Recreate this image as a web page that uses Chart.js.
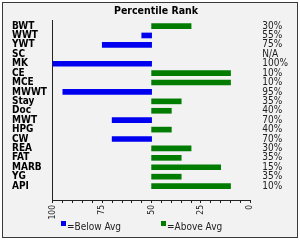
<!DOCTYPE html>
<html>
<head>
<meta charset="utf-8">
<script src="https://cdn.jsdelivr.net/npm/chart.js@4"></script>
<style>
  html, body { margin: 0; padding: 0; background: #fff; }
  #wrap { width: 300px; height: 240px; }
</style>
</head>
<body>
<div id="wrap"><canvas id="rank-chart" width="300" height="240"></canvas></div>
<script>
// --- dados ---
const traits = ['BWT', 'WWT', 'YWT', 'SC', 'MK', 'CE', 'MCE', 'MWWT', 'Stay', 'Doc',
                'MWT', 'HPG', 'CW', 'REA', 'FAT', 'MARB', 'YG', 'API'];
const ranks = [30, 55, 75, null, 100, 10, 10, 95, 35, 40, 70, 40, 70, 30, 35, 15, 35, 10];
const rankLabels = ['30%', '55%', '75%', 'N/A', '100%', '10%', '10%', '95%', '35%', '40%',
                    '70%', '40%', '70%', '30%', '35%', '15%', '35%', '10%'];
const xTicks = [0, 25, 50, 75, 100];
const AVG = 50;

const FONT = "'DejaVu Sans Condensed', 'DejaVu Sans', sans-serif";
const BLUE = '#0000f0';
const GREEN = '#007d00';

// barras abaixo / acima da media
const belowData = [];
const aboveData = [];
ranks.forEach((r, i) => {
    if (r === null) return;
    if (r > AVG) belowData.push({ y: i, x: [AVG, r] });
    else aboveData.push({ y: i, x: [AVG, r] });
});

const frame = {
    id: 'frame',
    beforeDraw(chart) {
        const ctx = chart.ctx;
        ctx.save();
        ctx.fillStyle = '#ffffff';
        ctx.fillRect(0, 0, chart.width, chart.height);
        ctx.fillStyle = '#f2f2f2';
        ctx.fillRect(2, 2, 296, 236);
        ctx.strokeStyle = '#3a3a3a';
        ctx.lineWidth = 1;
        ctx.strokeRect(2.5, 2.5, 295, 235);
        ctx.restore();
    }
};

// legenda desenhada a mao (espacamento fixo como no original)
const legendAt = [61, 161];
const bottomLegend = {
    id: 'bottomLegend',
    afterDraw(chart) {
        const ctx = chart.ctx;
        ctx.save();
        ctx.font = '10px ' + FONT;
        ctx.textBaseline = 'middle';
        chart.data.datasets.forEach((ds, i) => {
            const x = legendAt[i];
            ctx.fillStyle = ds.backgroundColor;
            ctx.fillRect(x, 221, 5, 5);
            ctx.fillStyle = '#222';
            ctx.fillText(ds.label, x + 6, 227.5);
        });
        ctx.restore();
    }
};

const rowTicks = axis => { axis.ticks = traits.map((t, i) => ({ value: i })); };

new Chart(document.getElementById('rank-chart'), {
    type: 'bar',
    data: {
        datasets: [
            { label: '=Below Avg', data: belowData, backgroundColor: BLUE, grouped: false, barThickness: 5, clip: false },
            { label: '=Above Avg', data: aboveData, backgroundColor: GREEN, grouped: false, barThickness: 5, clip: false }
        ]
    },
    options: {
        indexAxis: 'y',
        responsive: false,
        animation: false,
        layout: { padding: { left: 12, right: 0, top: 0, bottom: 18.4 } },
        scales: {
            x: {
                type: 'linear', min: 0, max: 100, reverse: true,
                afterBuildTicks: axis => {
                    const t = [];
                    for (let v = 0; v <= 100; v += 5) t.push({ value: v });
                    axis.ticks = t;
                },
                grid: { drawOnChartArea: false, drawTicks: true, tickLength: 3, color: '#222' },
                border: { display: true, color: '#222' },
                ticks: {
                    minRotation: 90, maxRotation: 90, padding: 2, autoSkip: false,
                    color: '#222', font: { family: FONT, size: 8.5 },
                    callback: v => xTicks.includes(v) ? String(v) : ''
                }
            },
            y: {
                type: 'linear', min: -0.05, max: 17.95, reverse: true,
                afterBuildTicks: rowTicks,
                grid: { display: false, drawTicks: false },
                border: { display: true, color: '#222' },
                ticks: {
                    crossAlign: 'far', padding: 3, autoSkip: false, color: '#000',
                    font: { family: FONT, size: 10, weight: 'bold' },
                    callback: v => traits[v]
                }
            },
            y2: {
                type: 'linear', position: 'right', min: -0.05, max: 17.95, reverse: true,
                afterBuildTicks: rowTicks,
                grid: { display: false, drawTicks: false },
                border: { display: false },
                ticks: {
                    padding: 12, autoSkip: false, color: '#222',
                    font: { family: FONT, size: 10 },
                    callback: v => rankLabels[v]
                }
            }
        },
        plugins: {
            legend: { display: false },
            tooltip: { enabled: false },
            title: {
                display: true, text: 'Percentile Rank', color: '#000',
                font: { family: FONT, size: 10.5, weight: 'bold' },
                padding: { top: 5, bottom: 3 }
            }
        }
    },
    plugins: [frame, bottomLegend]
});
</script>
</body>
</html>
